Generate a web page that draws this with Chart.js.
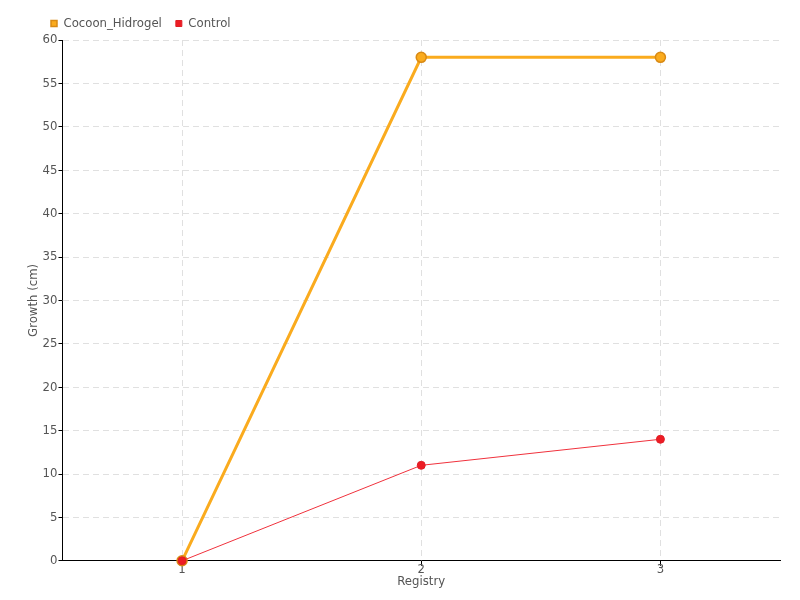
<!DOCTYPE html>
<html>
<head>
<meta charset="utf-8">
<script src="https://cdn.jsdelivr.net/npm/chart.js@4"></script>
<style>
  body { margin: 0; background: #fff; }
  #wrap { width: 800px; height: 600px; }
</style>
</head>
<body>
<div id="wrap"><canvas id="chart"></canvas></div>
<script>
const registry = ["1", "2", "3"];
const cocoonHidrogel = [0, 58, 58];
const control = [0, 11, 14];
const yTicks = { min: 0, max: 60, step: 5 };

const axisFont = { family: "DejaVu Sans Condensed", size: 13 };
const textColor = "#555";
const gridColor = "rgba(0,0,0,0.12)";

// shift the legend a bit to the right, like the original
const legendShift = {
    id: "legendShift",
    afterLayout(chart) {
        chart.legend.left += 27;
        chart.legend.right += 27;
    },
};

const ctx = document.querySelector("#chart").getContext("2d");
const myChart = new Chart(ctx, {
    type: "line",
    data: {
        labels: registry,
        datasets: [{
                label: "Cocoon_Hidrogel",
                data: cocoonHidrogel,
                borderColor: "#FAAB1E",
                backgroundColor: "#FAAB1E",
                borderWidth: 3,
                pointRadius: 5,
                pointBorderColor: "#D98A14",
                pointBackgroundColor: "#FAAB1E",
                pointBorderWidth: 1.5,
                tension: 0,
                clip: false,
                order: 1,
            },
            {
                label: "Control",
                data: control,
                borderColor: "#F0313C",
                backgroundColor: "#ED1C24",
                borderWidth: 1,
                pointRadius: 4,
                pointBorderColor: "#E01E26",
                pointBackgroundColor: "#ED1C24",
                tension: 0,
                clip: false,
                order: 0,
            },
        ],
    },
    options: {
        responsive: true,
        maintainAspectRatio: false,
        animation: false,
        layout: { padding: { left: 10, right: 20, top: 3, bottom: 11 } },
        plugins: {
            legend: {
                position: "top",
                align: "start",
                labels: {
                    usePointStyle: true,
                    pointStyle: "rect",
                    boxWidth: 6,
                    boxHeight: 6,
                    padding: 14,
                    color: textColor,
                    font: axisFont,
                    sort: (a, b) => a.datasetIndex - b.datasetIndex,
                },
            },
            tooltip: { enabled: false },
        },
        scales: {
            x: {
                offset: true,
                border: { color: "#000", width: 1, dash: [6, 4] },
                grid: {
                    color: gridColor,
                    tickColor: "#000",
                    tickLength: 5,
                    offset: false,
                },
                ticks: { color: textColor, font: axisFont, padding: -4 },
                title: {
                    display: true,
                    text: "Registry",
                    color: textColor,
                    font: axisFont,
                    padding: { top: 0, bottom: 0 },
                },
            },
            y: {
                min: yTicks.min,
                max: yTicks.max,
                border: { color: "#000", width: 1, dash: [6, 4] },
                grid: {
                    color: gridColor,
                    tickColor: "#000",
                    tickLength: 4,
                },
                ticks: { stepSize: yTicks.step, color: textColor, font: axisFont, padding: 1 },
                title: {
                    display: true,
                    text: "Growth (cm)",
                    color: textColor,
                    font: axisFont,
                    padding: { top: 16, bottom: 0 },
                },
            },
        },
    },
    plugins: [legendShift],
});
</script>
</body>
</html>
